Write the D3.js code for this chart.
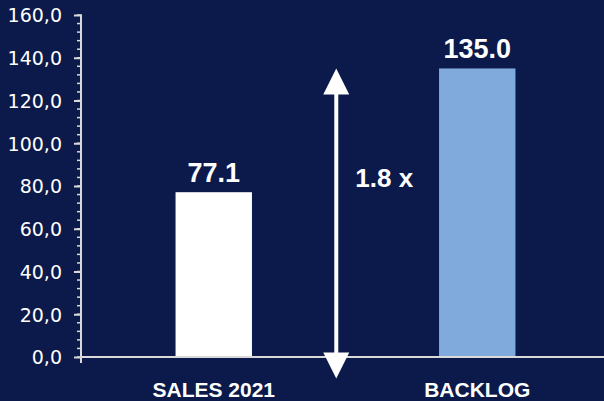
<!DOCTYPE html>
<html lang="en">
<head>
<meta charset="utf-8">
<script src="https://d3js.org/d3.v7.min.js"></script>
<style>
  body { margin: 0; background: #0b1a4a; }
  svg { display: block; }
</style>
</head>
<body>
<script>
var categories = ["SALES 2021", "BACKLOG"];
var values = [77.1, 135.0];
var barColors = ["#ffffff", "#7faadb"];
var yTicks = [0, 20, 40, 60, 80, 100, 120, 140, 160];

var width = 604, height = 401;
var svg = d3.select("body").append("svg")
    .attr("width", width)
    .attr("height", height);

svg.append("rect")
    .attr("width", width)
    .attr("height", height)
    .attr("fill", "#0b1a4a");

var x = d3.scaleBand()
    .domain(categories)
    .range([82, 609]);

var y = d3.scaleLinear()
    .domain([0, 160])
    .range([357, 15]);

var barW = x.bandwidth() * 0.29;

// minor ticks (every 4 units)
svg.selectAll(".minor")
    .data(d3.range(0, 161, 4))
    .enter().append("line")
    .attr("x1", 77).attr("x2", 82)
    .attr("y1", function(d) { return y(d); })
    .attr("y2", function(d) { return y(d); })
    .attr("stroke", "#d9d9d9")
    .attr("stroke-width", 1.5);

var yAxis = d3.axisLeft(y)
    .tickValues(yTicks)
    .tickSize(7)
    .tickPadding(12)
    .tickFormat(function(d) { return d3.format(".1f")(d).replace(".", ","); });

var gy = svg.append("g")
    .attr("transform", "translate(81,0)")
    .call(yAxis);
gy.select(".domain")
    .attr("stroke", "#d9d9d9")
    .attr("stroke-width", 2)
    .attr("d", "M0,15V363");
gy.selectAll(".tick line")
    .attr("stroke", "#d9d9d9")
    .attr("stroke-width", 2);
gy.selectAll(".tick text")
    .attr("fill", "#ffffff")
    .attr("font-family", "DejaVu Sans")
    .attr("font-size", 19)
    .attr("dy", "0.36em");

// bars
svg.selectAll(".bar")
    .data(values)
    .enter().append("rect")
    .attr("x", function(d, i) { return x(categories[i]) + x.bandwidth() / 2 - barW / 2; })
    .attr("y", function(d) { return y(d); })
    .attr("width", barW)
    .attr("height", function(d) { return y(0) - y(d); })
    .attr("fill", function(d, i) { return barColors[i]; });

// baseline
svg.append("line")
    .attr("x1", 80).attr("x2", width)
    .attr("y1", y(0)).attr("y2", y(0))
    .attr("stroke", "#d9d9d9")
    .attr("stroke-width", 2);

// value labels
svg.selectAll(".val")
    .data(values)
    .enter().append("text")
    .attr("x", function(d, i) { return x(categories[i]) + x.bandwidth() / 2; })
    .attr("y", function(d) { return y(d) - 10; })
    .attr("text-anchor", "middle")
    .attr("font-family", "Liberation Sans, Arial, sans-serif")
    .attr("font-weight", "bold")
    .attr("font-size", 27)
    .attr("fill", "#ffffff")
    .text(function(d) { return d.toFixed(1); });

// category labels
svg.selectAll(".cat")
    .data(categories)
    .enter().append("text")
    .attr("x", function(d) { return x(d) + x.bandwidth() / 2; })
    .attr("y", 397)
    .attr("text-anchor", "middle")
    .attr("font-family", "Liberation Sans, Arial, sans-serif")
    .attr("font-weight", "bold")
    .attr("font-size", 21)
    .attr("fill", "#ffffff")
    .text(function(d) { return d; });

// double arrow showing the ratio
var ax = x(categories[0]) + x.bandwidth() / 2 + x.step() * 0.465;
var yTop = y(values[1]), yBot = y(-10);
svg.append("line")
    .attr("x1", ax).attr("x2", ax)
    .attr("y1", yTop + 20).attr("y2", yBot - 20)
    .attr("stroke", "#ffffff")
    .attr("stroke-width", 4);
svg.append("path")
    .attr("d", "M" + ax + "," + yTop + "L" + (ax + 13) + "," + (yTop + 26) + "L" + (ax - 13) + "," + (yTop + 26) + "Z")
    .attr("fill", "#ffffff");
svg.append("path")
    .attr("d", "M" + ax + "," + yBot + "L" + (ax + 13) + "," + (yBot - 26) + "L" + (ax - 13) + "," + (yBot - 26) + "Z")
    .attr("fill", "#ffffff");

svg.append("text")
    .attr("x", ax + 19)
    .attr("y", y(80) + 1)
    .attr("font-family", "Liberation Sans, Arial, sans-serif")
    .attr("font-weight", "bold")
    .attr("font-size", 26)
    .attr("fill", "#ffffff")
    .text((values[1] / values[0]).toFixed(1) + " x");
</script>
</body>
</html>
